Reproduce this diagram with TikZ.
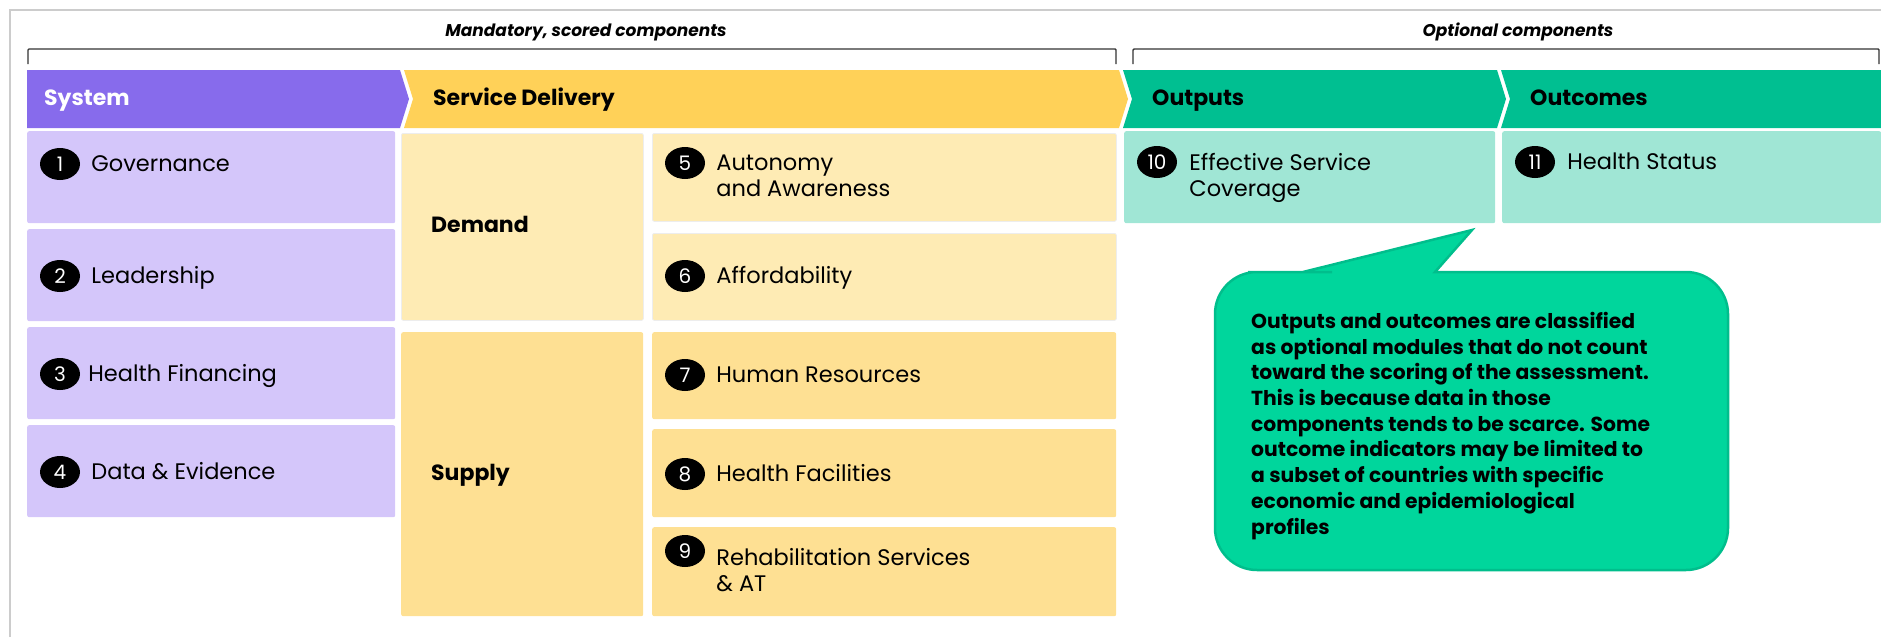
\documentclass[tikz,border=0pt]{standalone}
\usepackage{fontspec}
\setmainfont{Poppins}
\usepackage{tikz}
\usetikzlibrary{positioning,shapes.geometric}

\definecolor{sysdark}{HTML}{876BEC}
\definecolor{syslight}{HTML}{D4C6FA}
\definecolor{svcdark}{HTML}{FFD158}
\definecolor{demlight}{HTML}{FEEBB4}
\definecolor{suplight}{HTML}{FEE093}
\definecolor{outdark}{HTML}{00BF91}
\definecolor{outlight}{HTML}{A0E6D5}
\definecolor{notefill}{HTML}{00D69C}
\definecolor{noteline}{HTML}{00BE8C}
\definecolor{framegray}{HTML}{CCCCCC}

\begin{document}
\begin{tikzpicture}[
    x=1pt, y=-1pt,
    box/.style={rectangle, rounded corners=2pt, inner sep=0pt, anchor=north west},
    sysbox/.style={box, fill=syslight},
    dembox/.style={box, fill=demlight, draw=black!7, line width=0.8pt},
    supbox/.style={box, fill=suplight},
    outbox/.style={box, fill=outlight},
    numdot/.style={ellipse, fill=black, text=white, inner sep=0pt, minimum width=40pt,
        minimum height=32pt, font=\fontsize{20}{20}\selectfont},
    item/.style={inner sep=0pt, align=left, anchor=base west, font=\fontsize{22.5}{26}\selectfont},
    head/.style={inner sep=0pt, anchor=base west, font=\fontsize{22}{24}\selectfont\bfseries},
    group/.style={inner sep=0pt, anchor=base, font=\fontsize{17}{18}\selectfont\bfseries\itshape},
    brace/.style={line width=1.4pt, draw=black!80, rounded corners=1pt}
]
\useasboundingbox (0,0) rectangle (1881,637);

% frame
\draw[framegray, line width=1.5pt] (10,637) -- (10,10) -- (1881,10);

% group labels and brackets
\node[group] (mand) at (586,36) {Mandatory, scored components};
\node[group] (opt) at (1518,36) {Optional components};
\draw[brace] (28,64) -- (28,49) -- (1116,49) -- (1116,64);
\draw[brace] (1133,64) -- (1133,49) -- (1879,49) -- (1879,64);

% header chevrons
\fill[sysdark] (27,70) -- (400,70) -- (409,99) -- (400,128) -- (27,128) -- cycle;
\fill[svcdark] (404,70) -- (1119,70) -- (1128,99) -- (1119,128) -- (404,128) -- (413,99) -- cycle;
\fill[outdark] (1123,70) -- (1497,70) -- (1506,99) -- (1497,128) -- (1123,128) -- (1132,99) -- cycle;
\fill[outdark] (1501,70) -- (1881,70) -- (1881,128) -- (1501,128) -- (1510,99) -- cycle;
\node[head, text=white] (hsys) at (44,105) {System};
\node[head] (hsvc) at (433,105) {Service Delivery};
\node[head] (hout) at (1152,105) {Outputs};
\node[head] (hocm) at (1530,105) {Outcomes};

% system column
\node[sysbox, minimum width=368, minimum height=92] (gov) at (27,131) {};
\node[sysbox, minimum width=368, minimum height=92] (lead) at (27,229) {};
\node[sysbox, minimum width=368, minimum height=92] (fin) at (27,327) {};
\node[sysbox, minimum width=368, minimum height=92] (data) at (27,425) {};

% demand and supply
\node[dembox, minimum width=242, minimum height=187] (demand) at (401,133) {};
\node[supbox, minimum width=242, minimum height=284] (supply) at (401,332) {};
\node[head] (tdem) at (431,232) {Demand};
\node[head] (tsup) at (431,480) {Supply};

\node[dembox, minimum width=464, minimum height=88] (auto) at (652,133) {};
\node[dembox, minimum width=464, minimum height=87] (afford) at (652,233) {};
\node[supbox, minimum width=464, minimum height=87] (hr) at (652,332) {};
\node[supbox, minimum width=464, minimum height=88] (fac) at (652,429) {};
\node[supbox, minimum width=464, minimum height=89] (rehab) at (652,527) {};

% outputs and outcomes
\node[outbox, minimum width=371, minimum height=92] (eff) at (1124,131) {};
\node[outbox, minimum width=379, minimum height=92] (status) at (1502,131) {};

% numbered items
\node[numdot] (n1) at (60,164) {1};
\node[item] (t1) at ([xshift=11pt,yshift=-7pt]n1.east) {Governance};
\node[numdot] (n2) at (60,276) {2};
\node[item] (t2) at ([xshift=11pt,yshift=-7pt]n2.east) {Leadership};
\node[numdot] (n3) at (60,374) {3};
\node[item] (t3) at ([xshift=8pt,yshift=-7pt]n3.east) {Health Financing};
\node[numdot] (n4) at (60,472) {4};
\node[item] (t4) at ([xshift=11pt,yshift=-7pt]n4.east) {Data \& Evidence};

\node[numdot] (n5) at (685,163) {5};
\node[item] (t5) at ([xshift=11pt,yshift=-33pt]n5.east) {Autonomy\\and Awareness};
\node[numdot] (n6) at (685,276) {6};
\node[item] (t6) at ([xshift=11pt,yshift=-7pt]n6.east) {Affordability};
\node[numdot] (n7) at (685,375) {7};
\node[item] (t7) at ([xshift=11pt,yshift=-7pt]n7.east) {Human Resources};
\node[numdot] (n8) at (685,474) {8};
\node[item] (t8) at ([xshift=11pt,yshift=-7pt]n8.east) {Health Facilities};
\node[numdot] (n9) at (685,551) {9};
\node[item] (t9) at ([xshift=11pt,yshift=-40pt]n9.east) {Rehabilitation Services\\\& AT};

\node[numdot] (n10) at (1157,162) {10};
\node[item] (t10) at ([xshift=12pt,yshift=-34pt]n10.east) {Effective Service\\Coverage};
\node[numdot] (n11) at (1535,162) {11};
\node[item] (t11) at ([xshift=12pt,yshift=-7pt]n11.east) {Health Status};

% callout
\draw[fill=notefill, draw=noteline, line width=2.5pt]
    (1215,420) [rounded corners=42] -- (1215,272) -- (1290,272) [sharp corners] -- (1303,272)
    -- (1472,230) -- (1435,272) -- (1450,272) [rounded corners=42] -- (1728,272)
    -- (1728,570) -- (1215,570) -- cycle;
\node[inner sep=0pt, anchor=north west, align=left, font=\fontsize{20.3}{25.7}\selectfont\bfseries] (note) at (1251,312)
    {Outputs and outcomes are classified\\
     as optional modules that do not count\\
     toward the scoring of the assessment.\\
     This is because data in those\\
     components tends to be scarce. Some\\
     outcome indicators may be limited to\\
     a subset of countries with specific\\
     economic and epidemiological\\
     profiles};

\end{tikzpicture}
\end{document}
